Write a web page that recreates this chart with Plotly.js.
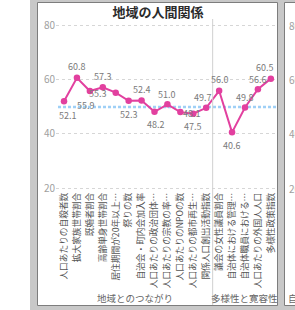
<!DOCTYPE html>
<html><head><meta charset="utf-8">
<script src="https://cdn.plot.ly/plotly-3.0.1.min.js"></script>
<style>html,body{margin:0;padding:0;background:#fff;overflow:hidden}#chart{width:295px;height:310px}</style>
</head><body><div id="chart"></div>
<script>
// ---- data ----
const categories = [
  '人口あたりの自殺者数','拡大家族世帯割合','既婚者割合','高齢単身世帯割合',
  '居住期間が20年以上…','祭りの数','自治会・町内会加入率','人口あたりの政治団体…',
  '人口あたりの宗教の率…','人口あたりのNPOの数','人口あたりの都市再生…','関係人口創出活動指数',
  '議会の女性議員割合','自治体における管理…','自治体職員における…','人口あたりの外国人人口','多様性政策指数'
];
const values = [52.1,60.8,55.9,57.3,55.3,52.3,52.4,48.2,51.0,48.1,47.5,49.7,56.0,40.6,49.8,56.6,60.5];
const valueLabels = ['52.1','60.8','55.9','57.3','55.3','52.3','52.4','48.2','51.0','48.1','47.5','49.7','56.0','40.6','49.8','56.6','60.5'];
const groupNames = ['地域とのつながり','多様性と寛容性'];
const groupSizes = [12,5];
const average = 50;
const yTicks = [20,40,60,80];
const titleText = '地域の人間関係';
const neighborTickValues = [80,60,40,20];
const neighborTickLabels = ['80','60','40','20'];
const neighborGroup = '自';

// ---- styling / layout helpers ----
const W = 295, H = 310, L = 56, R = 19, T = 23, B = 120;
const PW = W - L - R, PH = H - T - B;
const px = x => (x - L) / PW;
const py = y => (H - B - y) / PH;
const labelShift = [[4,-14],[0,11],[-4,-14],[0,11],[-18,-1],[0,-14],[0,11],[1,-13],[0,10],[12,-1],[0,-13],[-3,10],[1,11],[0,-13],[0,10],[0,10],[-6,11]];
const JP = '"Noto Sans CJK JP", "Noto Sans", sans-serif';
const pink = '#E2409F';

const annotations = [];
values.forEach((v, i) => {
  annotations.push({xref:'x', yref:'y', x: categories[i], y: v, text: valueLabels[i],
    showarrow:false, xanchor:'center', yanchor:'middle', xshift: labelShift[i][0], yshift: labelShift[i][1],
    font:{family: JP, size: 9, color:'#7a7a7a'}});
});
let start = 0;
const shapes = [
  {type:'rect', xref:'paper', yref:'paper', x0:px(30), x1:px(300), y0:py(315), y1:py(-5), fillcolor:'#c8c8c8', line:{width:0}, layer:'below'},
  {type:'rect', xref:'paper', yref:'paper', x0:px(37.5), x1:px(277.5), y0:py(305.5), y1:py(2.5), fillcolor:'#ffffff', line:{color:'#7d7d7d', width:1}, layer:'below'},
  {type:'rect', xref:'paper', yref:'paper', x0:px(284.5), x1:px(305), y0:py(305.5), y1:py(2.5), fillcolor:'#ffffff', line:{color:'#7d7d7d', width:1}, layer:'below'},
  {type:'line', xref:'paper', yref:'y', x0:px(58), x1:px(276), y0:average, y1:average, line:{color:'#9fd0f6', width:2.5, dash:'3px,2px'}, layer:'below'}
];
groupNames.forEach((g, k) => {
  const end = start + groupSizes[k] - 1;
  annotations.push({xref:'x', yref:'paper', x:(start + end) / 2, y:py(298), text:g, showarrow:false,
    xanchor:'center', yanchor:'middle', font:{family: JP, size: 9.5, color:'#666'}});
  if (k > 0) {
    shapes.push({type:'line', xref:'x', yref:'paper', x0:start - 0.5, x1:start - 0.5, y0:py(305), y1:py(19),
      line:{color:'#d0d0d0', width:1}});
  }
  start = end + 1;
});
neighborTickLabels.forEach((t, i) => {
  annotations.push({xref:'paper', yref:'y', x:px(287), y:neighborTickValues[i], text:t,
    showarrow:false, xanchor:'left', yanchor:'middle', font:{family: JP, size: 10, color:'#a0a0a0'}});
});
annotations.push({xref:'paper', yref:'paper', x:px(286), y:py(298), text:neighborGroup, showarrow:false,
  xanchor:'left', yanchor:'middle', font:{family: JP, size: 9.5, color:'#666'}});

const trace = {
  type:'scatter', mode:'lines+markers', x: categories, y: values,
  line:{color: pink, width: 2}, marker:{color: pink, size: 6.5}, cliponaxis:false, hoverinfo:'skip'
};

const layout = {
  width: W, height: H, margin:{l:L, r:R, t:T, b:B, pad:0},
  paper_bgcolor:'#ffffff', plot_bgcolor:'rgba(0,0,0,0)',
  showlegend:false, hovermode:false,
  title:{text: titleText, x: 158/W, xanchor:'center', y: 1 - 12/H, yanchor:'middle', xref:'container', yref:'container',
    font:{family: JP, size: 13, color:'#2b2b2b', weight:'bold'}},
  xaxis:{type:'category', range:[-0.62, 16.4], tickangle:-90, showgrid:false, zeroline:false, showline:false, ticks:'',
    tickfont:{family: JP, size: 8.7, color:'#555'}, automargin:false, fixedrange:true},
  yaxis:{range:[19.26, 81.1], tickvals: yTicks, showgrid:true, gridcolor:'#d6d6d6', griddash:'dot', gridwidth:1,
    zeroline:false, showline:false, ticks:'', tickfont:{family: JP, size: 10, color:'#a0a0a0'}, automargin:false, fixedrange:true},
  shapes: shapes, annotations: annotations
};
Plotly.newPlot('chart', [trace], layout, {displayModeBar:false, staticPlot:true});
</script>
</body></html>
